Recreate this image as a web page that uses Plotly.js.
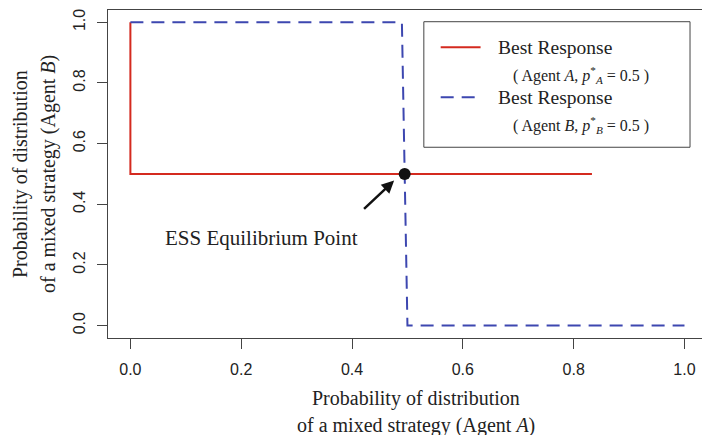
<!DOCTYPE html>
<html>
<head>
<meta charset="utf-8">
<script src="https://cdn.plot.ly/plotly-3.0.1.min.js"></script>
<style>html,body{margin:0;padding:0;background:#fff;}#chart{width:702px;height:435px;}</style>
</head>
<body>
<div id="chart"></div>
<script>
// Data
const redX = [0, 0, 0.833];
const redY = [1, 0.5, 0.5];
const blueX = [0, 0.49, 0.5, 1.0];
const blueY = [1, 1, 0, 0];
const essX = [0.495];
const essY = [0.5];
const tickVals = [0, 0.2, 0.4, 0.6, 0.8, 1.0];
const tickText = ["0.0", "0.2", "0.4", "0.6", "0.8", "1.0"];

const serif = "Liberation Serif, Times New Roman, serif";
const tickFont = {family: "Liberation Sans Narrow, Arial Narrow, sans-serif", size: 16, color: "#222"};
const axColor = "#444";

const traces = [
  {x: redX, y: redY, mode: "lines", line: {color: "#d42a1f", width: 2}, showlegend: false, hoverinfo: "skip"},
  {x: blueX, y: blueY, mode: "lines", line: {color: "#3d47b0", width: 2, dash: "13px,8px"}, showlegend: false, hoverinfo: "skip"},
  {x: essX, y: essY, mode: "markers", marker: {color: "#111", size: 12}, showlegend: false, hoverinfo: "skip"}
];

const layout = {
  width: 702, height: 435,
  margin: {l: 108, r: 0, t: 10, b: 97},
  paper_bgcolor: "#fff", plot_bgcolor: "#fff",
  showlegend: false,
  xaxis: {
    range: [-0.0404, 1.0316], showgrid: false, zeroline: false,
    showline: true, mirror: true, linecolor: axColor, linewidth: 1,
    ticks: "outside", ticklen: 10, tickcolor: axColor, tickwidth: 1,
    tickvals: tickVals, ticktext: tickText, tickfont: tickFont, ticklabelstandoff: 7
  },
  yaxis: {
    range: [-0.041, 1.0406], showgrid: false, zeroline: false,
    showline: true, mirror: false, linecolor: axColor, linewidth: 1,
    ticks: "outside", ticklen: 10, tickcolor: axColor, tickwidth: 1,
    tickvals: tickVals, ticktext: tickText, tickfont: tickFont, tickangle: -90, ticklabelstandoff: 6
  },
  shapes: [
    {type: "rect", xref: "x", yref: "y", x0: 0.5296, x1: 1.010, y0: 0.588, y1: 1.002,
     line: {color: axColor, width: 1}, fillcolor: "#fff", layer: "below"},
    {type: "line", xref: "x", yref: "y", x0: 0.560, x1: 0.632, y0: 0.918, y1: 0.918,
     line: {color: "#d42a1f", width: 2}},
    {type: "line", xref: "x", yref: "y", x0: 0.560, x1: 0.632, y0: 0.753, y1: 0.753,
     line: {color: "#3d47b0", width: 2, dash: "13px,8px"}}
  ],
  annotations: [
    {xref: "x", yref: "y", x: 0.6597, y: 0.918, xanchor: "left", yanchor: "middle", showarrow: false,
     text: "Best Response", font: {family: serif, size: 19.5, color: "#222"}},
    {xref: "x", yref: "y", x: 0.686, y: 0.826, xanchor: "left", yanchor: "middle", showarrow: false,
     text: "( Agent <i>A</i>, <i>p</i><sup>*</sup><sub><i>A</i></sub> = 0.5 )", font: {family: serif, size: 16, color: "#222"}},
    {xref: "x", yref: "y", x: 0.6597, y: 0.753, xanchor: "left", yanchor: "middle", showarrow: false,
     text: "Best Response", font: {family: serif, size: 19.5, color: "#222"}},
    {xref: "x", yref: "y", x: 0.686, y: 0.661, xanchor: "left", yanchor: "middle", showarrow: false,
     text: "( Agent <i>B</i>, <i>p</i><sup>*</sup><sub><i>B</i></sub> = 0.5 )", font: {family: serif, size: 16, color: "#222"}},
    {xref: "x", yref: "y", x: 0.237, y: 0.29, xanchor: "center", yanchor: "middle", showarrow: false,
     text: "ESS Equilibrium Point", font: {family: serif, size: 21, color: "#222"}},
    {xref: "x", yref: "y", x: 0.476, y: 0.478, axref: "x", ayref: "y", ax: 0.419, ay: 0.38,
     text: "", showarrow: true, arrowhead: 2, arrowsize: 1, arrowwidth: 2.5, arrowcolor: "#111", standoff: 0},
    {xref: "paper", yref: "paper", x: 0.5185, y: -0.183, xanchor: "center", yanchor: "middle", showarrow: false,
     text: "Probability of distribution", font: {family: serif, size: 20, color: "#222"}},
    {xref: "paper", yref: "paper", x: 0.5185, y: -0.268, xanchor: "center", yanchor: "middle", showarrow: false,
     text: "of a mixed strategy (Agent <i>A</i>)", font: {family: serif, size: 20, color: "#222"}},
    {xref: "paper", yref: "paper", x: -0.148, y: 0.5, xanchor: "center", yanchor: "middle", showarrow: false, textangle: -90,
     text: "Probability of distribution", font: {family: serif, size: 20, color: "#222"}},
    {xref: "paper", yref: "paper", x: -0.101, y: 0.5, xanchor: "center", yanchor: "middle", showarrow: false, textangle: -90,
     text: "of a mixed strategy (Agent <i>B</i>)", font: {family: serif, size: 20, color: "#222"}}
  ]
};

Plotly.newPlot("chart", traces, layout, {displayModeBar: false, staticPlot: true});
</script>
</body>
</html>
